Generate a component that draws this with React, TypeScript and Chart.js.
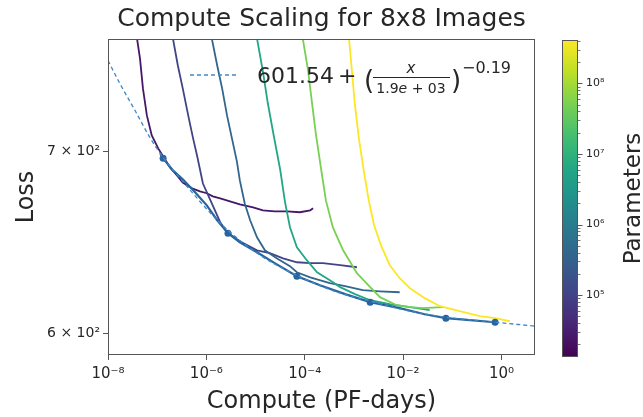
import React, { useEffect, useRef } from 'react';
import { Chart, registerables } from 'chart.js';

Chart.register(...registerables);

// ---------- text ----------
const TITLE = 'Compute Scaling for 8x8 Images';
const X_TITLE = 'Compute (PF-days)';
const Y_TITLE = 'Loss';
const CB_TITLE = 'Parameters';
const FIT_CONST = '601.54';
const FIT_NUM = 'x';
const FIT_SCALE_MANT = '1.9';
const FIT_SCALE_E = 'e';
const FIT_SCALE_EXP = ' + 03';
const FIT_POWER = '−0.19';

// ---------- ticks ----------
const xTickValues = [1e-8, 1e-6, 1e-4, 1e-2, 1];
const xTickLabels = ['10⁻⁸', '10⁻⁶', '10⁻⁴', '10⁻²', '10⁰'];
const yTickValues = [600, 700];
const yTickLabels = ['6 × 10²', '7 × 10²'];
const cbTickValues = [1e5, 1e6, 1e7, 1e8];
const cbTickLabels = ['10⁵', '10⁶', '10⁷', '10⁸'];
const cbMinorMultipliers = [2, 3, 4, 5, 6, 7, 8, 9];

const X_MIN = 1e-8;
const X_MAX = 4.8;
const Y_MIN = 589;
const Y_MAX = 770;
const CB_MIN = 1.33e4;
const CB_MAX = 4.1e8;

// ---------- data ----------
const modelParams = [2.5e4, 1.1e5, 4e5, 6e6, 5e7, 4e8];

const computeA = [3.39e-8, 3.89e-8, 4.47e-8, 5.13e-8, 6.17e-8, 7.76e-8, 1.05e-7, 1.32e-7, 1.82e-7, 2.63e-7, 3.31e-7, 5.13e-7, 7.41e-7, 1.02e-6, 1.35e-6, 1.91e-6, 3.02e-6, 4.79e-6, 8.91e-6, 1.41e-5, 2.45e-5, 4.37e-5, 7.94e-5, 1.29e-4, 1.48e-4];
const lossA = [775.5, 770.3, 757.4, 738.4, 721.7, 709.5, 701.8, 697.0, 690.6, 685.3, 681.8, 678.4, 676.7, 675.6, 673.8, 672.7, 671.0, 669.3, 667.6, 665.9, 665.3, 665.3, 664.8, 665.9, 667.0];

const computeB = [1.91e-7, 2.09e-7, 2.63e-7, 3.31e-7, 4.27e-7, 5.37e-7, 6.46e-7, 8.51e-7, 1.29e-6, 1.91e-6, 2.63e-6, 4.79e-6, 1.07e-5, 1.95e-5, 3.63e-5, 6.92e-5, 1.29e-4, 2.34e-4, 5.25e-4, 1.15e-3];
const lossB = [775.5, 770.3, 752.9, 738.4, 721.7, 707.8, 697.6, 681.2, 669.8, 659.2, 653.6, 648.6, 643.7, 642.1, 639.3, 637.2, 636.7, 636.7, 635.6, 634.5];

const computeC = [1.17e-6, 1.29e-6, 1.66e-6, 2.09e-6, 2.63e-6, 3.31e-6, 4.17e-6, 4.79e-6, 6.03e-6, 7.76e-6, 1.07e-5, 1.55e-5, 2.69e-5, 5.01e-5, 6.92e-5, 1.29e-4, 3.24e-4, 6.61e-4, 1.51e-3, 3.39e-3, 8.51e-3];
const lossC = [775.5, 770.3, 752.9, 738.4, 721.7, 707.8, 694.1, 683.0, 669.8, 660.3, 650.8, 643.7, 639.3, 635.1, 631.8, 629.1, 626.0, 624.4, 622.3, 621.7, 621.2];

const computeD = [9.77e-6, 1.07e-5, 1.41e-5, 1.78e-5, 2.34e-5, 3.16e-5, 3.98e-5, 5.01e-5, 6.92e-5, 1.10e-4, 1.78e-4, 3.24e-4, 5.25e-4, 1.05e-3, 2.14e-3, 5.37e-3, 1.38e-2, 3.47e-2];
const lossD = [775.5, 770.3, 749.1, 729.0, 709.5, 689.4, 670.4, 656.4, 645.3, 638.3, 631.8, 627.6, 623.9, 620.2, 617.0, 614.9, 613.4, 611.8];

const computeE = [8.32e-5, 9.12e-5, 1.17e-4, 1.41e-4, 1.70e-4, 2.14e-4, 2.69e-4, 3.72e-4, 6.03e-4, 1.15e-3, 2.14e-3, 3.39e-3, 7.41e-3, 1.38e-2, 2.51e-2, 6.46e-2];
const lossE = [775.5, 770.3, 749.7, 729.0, 709.5, 690.0, 671.5, 656.4, 643.7, 631.3, 623.9, 618.6, 614.4, 613.4, 612.9, 613.4];

const computeF = [7.24e-4, 7.94e-4, 9.12e-4, 1.05e-3, 1.26e-3, 1.58e-3, 2.00e-3, 2.57e-3, 3.55e-3, 5.37e-3, 8.51e-3, 1.38e-2, 2.75e-2, 5.62e-2, 1.41e-1, 3.63e-1, 7.41e-1, 1.48];
const lossF = [775.5, 770.3, 749.1, 727.8, 707.8, 688.8, 671.5, 657.5, 646.4, 635.6, 628.6, 623.3, 618.1, 613.9, 611.3, 608.7, 607.7, 606.1];

const frontierCompute = [1.15e-7, 1.32e-7, 2.09e-7, 3.31e-7, 5.89e-7, 1.02e-6, 1.66e-6, 2.75e-6, 4.79e-6, 1.07e-5, 2.45e-5, 6.92e-5, 2.04e-4, 6.61e-4, 2.14e-3, 8.51e-3, 2.75e-2, 7.41e-2, 2.29e-1, 7.41e-1];
const frontierLoss = [698.8, 695.9, 688.8, 683.6, 676.1, 668.7, 660.3, 653.1, 648.1, 642.6, 636.7, 629.7, 624.9, 620.2, 616.0, 612.9, 609.7, 607.7, 606.7, 605.6];

const dotCompute = [1.32e-7, 2.75e-6, 6.92e-5, 2.14e-3, 7.41e-2, 7.41e-1];
const dotLoss = [695.9, 653.1, 629.7, 616.0, 607.7, 605.6];

const fitCompute = [1e-8, 1.74e-8, 3.55e-8, 7.08e-8, 1.32e-7, 3.72e-7, 1.17e-6, 2.75e-6, 1.23e-5, 6.92e-5, 4.07e-4, 2.14e-3, 1.38e-2, 7.41e-2, 7.41e-1, 4.79];
const fitLoss = [756.1, 741.5, 724.7, 708.4, 696.5, 680.7, 664.8, 654.7, 641.0, 630.2, 621.7, 616.5, 611.3, 608.2, 605.6, 603.6];

const curveComputes = [computeA, computeB, computeC, computeD, computeE, computeF];
const curveLosses = [lossA, lossB, lossC, lossD, lossE, lossF];

// ---------- style ----------
const FONT = '"DejaVu Sans", sans-serif';
const TEXT_COLOR = '#262626';
const FRAME_COLOR = '#555555';
const FIT_COLOR = '#3f88c5';
const FRONTIER_COLOR = '#29649d';
const VIRIDIS = ['#440154', '#482475', '#414487', '#355f8d', '#2a788e', '#21918c', '#22a884', '#44bf70', '#7ad151', '#bddf26', '#fde725'];

function hexToRgb(h: string) {
  const n = parseInt(h.slice(1), 16);
  return [(n >> 16) & 255, (n >> 8) & 255, n & 255];
}
function viridis(t: number) {
  const c = Math.max(0, Math.min(1, t)) * (VIRIDIS.length - 1);
  const i = Math.min(VIRIDIS.length - 2, Math.floor(c));
  const f = c - i;
  const a = hexToRgb(VIRIDIS[i]);
  const b = hexToRgb(VIRIDIS[i + 1]);
  const m = a.map((v, k) => Math.round(v + (b[k] - v) * f));
  return `rgb(${m[0]},${m[1]},${m[2]})`;
}
function paramFrac(p: number) {
  return (Math.log10(p) - Math.log10(CB_MIN)) / (Math.log10(CB_MAX) - Math.log10(CB_MIN));
}
function labelFor(values: number[], labels: string[], v: number) {
  const i = values.findIndex((t) => Math.abs(Math.log10(t) - Math.log10(v)) < 1e-6);
  return i >= 0 ? labels[i] : '';
}
function pts(xs: number[], ys: number[]) {
  return xs.map((x, i) => ({ x, y: ys[i] }));
}

// colorbar geometry (pixels)
const CB_LEFT = 562;
const CB_RIGHT = 578;
const CB_TOP = 40;
const CB_BOTTOM = 357;

const decorPlugin = {
  id: 'decor',
  afterDraw(chart: any) {
    const { ctx, chartArea: a } = chart;
    ctx.save();
    // frame
    ctx.strokeStyle = FRAME_COLOR;
    ctx.lineWidth = 1;
    ctx.strokeRect(Math.round(a.left) + 0.5, Math.round(a.top) + 0.5, Math.round(a.right - a.left) - 1, Math.round(a.bottom - a.top) - 1);

    ctx.fillStyle = TEXT_COLOR;
    // title
    ctx.font = `25px ${FONT}`;
    ctx.textAlign = 'center';
    ctx.textBaseline = 'alphabetic';
    ctx.fillText(TITLE, (a.left + a.right) / 2, 26);
    // x title
    ctx.font = `24px ${FONT}`;
    ctx.fillText(X_TITLE, (a.left + a.right) / 2, 408);
    // y title
    ctx.save();
    ctx.translate(33, (a.top + a.bottom) / 2);
    ctx.rotate(-Math.PI / 2);
    ctx.fillText(Y_TITLE, 0, 0);
    ctx.restore();

    // colorbar
    const g = ctx.createLinearGradient(0, CB_BOTTOM, 0, CB_TOP);
    VIRIDIS.forEach((c, i) => g.addColorStop(i / (VIRIDIS.length - 1), c));
    ctx.fillStyle = g;
    ctx.fillRect(CB_LEFT, CB_TOP, CB_RIGHT - CB_LEFT, CB_BOTTOM - CB_TOP);
    ctx.strokeStyle = FRAME_COLOR;
    ctx.lineWidth = 1;
    ctx.strokeRect(CB_LEFT + 0.5, CB_TOP + 0.5, CB_RIGHT - CB_LEFT - 1, CB_BOTTOM - CB_TOP - 1);
    const cbY = (v: number) => CB_BOTTOM - paramFrac(v) * (CB_BOTTOM - CB_TOP);
    ctx.beginPath();
    for (let k = 4; k <= 8; k++) {
      for (const m of cbMinorMultipliers) {
        const v = m * Math.pow(10, k);
        if (v < CB_MIN || v > CB_MAX) continue;
        const y = Math.round(cbY(v)) + 0.5;
        ctx.moveTo(CB_RIGHT, y);
        ctx.lineTo(CB_RIGHT + 2.5, y);
      }
    }
    ctx.lineWidth = 0.8;
    ctx.stroke();
    ctx.beginPath();
    cbTickValues.forEach((v) => {
      const y = Math.round(cbY(v)) + 0.5;
      ctx.moveTo(CB_RIGHT, y);
      ctx.lineTo(CB_RIGHT + 4.5, y);
    });
    ctx.lineWidth = 1;
    ctx.stroke();
    ctx.fillStyle = TEXT_COLOR;
    ctx.font = `11px ${FONT}`;
    ctx.textAlign = 'left';
    ctx.textBaseline = 'middle';
    cbTickValues.forEach((v, i) => ctx.fillText(cbTickLabels[i], 586, cbY(v)));
    ctx.save();
    ctx.translate(640, (CB_TOP + CB_BOTTOM) / 2);
    ctx.rotate(-Math.PI / 2);
    ctx.textAlign = 'center';
    ctx.textBaseline = 'alphabetic';
    ctx.font = `23px ${FONT}`;
    ctx.fillText(CB_TITLE, 0, 0);
    ctx.restore();

    // legend
    ctx.strokeStyle = FIT_COLOR;
    ctx.lineWidth = 1.3;
    ctx.setLineDash([4, 3]);
    ctx.beginPath();
    ctx.moveTo(190, 75);
    ctx.lineTo(238, 75);
    ctx.stroke();
    ctx.setLineDash([]);
    ctx.fillStyle = TEXT_COLOR;
    ctx.textBaseline = 'alphabetic';
    ctx.textAlign = 'left';
    ctx.font = `22px ${FONT}`;
    ctx.fillText(FIT_CONST, 257, 83);
    ctx.fillText('+', 338, 83);
    ctx.font = `26px ${FONT}`;
    ctx.fillText('(', 364, 89);
    const fx = 411;
    ctx.textAlign = 'center';
    ctx.font = `italic 15px ${FONT}`;
    ctx.fillText(FIT_NUM, fx, 73);
    ctx.fillRect(373, 77, 77, 1);
    const runs: [string, string][] = [
      [FIT_SCALE_MANT, `14px ${FONT}`],
      [FIT_SCALE_E, `italic 14px ${FONT}`],
      [FIT_SCALE_EXP, `14px ${FONT}`],
    ];
    let total = 0;
    runs.forEach(([t, f]) => { ctx.font = f; total += ctx.measureText(t).width; });
    let cx = fx - total / 2;
    ctx.textAlign = 'left';
    runs.forEach(([t, f]) => { ctx.font = f; ctx.fillText(t, cx, 93); cx += ctx.measureText(t).width; });
    ctx.font = `26px ${FONT}`;
    ctx.fillText(')', 451, 89);
    ctx.font = `16px ${FONT}`;
    ctx.fillText(FIT_POWER, 462, 73);
    ctx.restore();
  },
};

export default function App() {
  const ref = useRef<HTMLCanvasElement | null>(null);
  useEffect(() => {
    if (!ref.current) return;
    const curveSets = curveComputes.map((xs, i) => ({
      data: pts(xs, curveLosses[i]),
      borderColor: viridis(paramFrac(modelParams[i])),
      borderWidth: 1.8,
      pointRadius: 0,
      fill: false,
    }));
    const datasets: any[] = [
      {
        data: pts(fitCompute, fitLoss),
        borderColor: FIT_COLOR,
        borderWidth: 1.3,
        borderDash: [4, 3],
        pointRadius: 0,
        cubicInterpolationMode: 'monotone',
        fill: false,
      },
      {
        data: pts(dotCompute, dotLoss),
        showLine: false,
        pointRadius: 3.5,
        pointBackgroundColor: FRONTIER_COLOR,
        pointBorderColor: FRONTIER_COLOR,
        pointBorderWidth: 0,
      },
      {
        data: pts(frontierCompute, frontierLoss),
        borderColor: FRONTIER_COLOR,
        borderWidth: 2.2,
        pointRadius: 0,
        fill: false,
      },
      ...curveSets.reverse(),
    ];
    const chart = new Chart(ref.current, {
      type: 'line',
      data: { datasets },
      options: {
        animation: false,
        responsive: false,
        devicePixelRatio: 1,
        events: [],
        layout: { padding: { left: 0, right: 108, top: 39, bottom: 0 } },
        plugins: { legend: { display: false }, tooltip: { enabled: false }, title: { display: false } },
        elements: { line: { tension: 0 } },
        scales: {
          x: {
            type: 'logarithmic',
            min: X_MIN,
            max: X_MAX,
            bounds: 'data',
            afterBuildTicks: (s: any) => { s.ticks = xTickValues.map((v) => ({ value: v })); },
            afterFit: (s: any) => { s.height = 62; },
            ticks: {
              callback: (v: any) => labelFor(xTickValues, xTickLabels, Number(v)),
              font: { family: '"DejaVu Sans"', size: 15 },
              color: TEXT_COLOR,
              maxRotation: 0,
              autoSkip: false,
              padding: 5,
            },
            grid: { display: true, drawOnChartArea: false, drawTicks: true, tickLength: 5, color: FRAME_COLOR },
            border: { display: false },
          },
          y: {
            type: 'logarithmic',
            min: Y_MIN,
            max: Y_MAX,
            bounds: 'data',
            afterBuildTicks: (s: any) => { s.ticks = yTickValues.map((v) => ({ value: v })); },
            afterFit: (s: any) => { s.width = 108; },
            ticks: {
              callback: (v: any) => labelFor(yTickValues, yTickLabels, Number(v)),
              font: { family: '"DejaVu Sans"', size: 14 },
              color: TEXT_COLOR,
              autoSkip: false,
              padding: 3,
            },
            grid: { display: true, drawOnChartArea: false, drawTicks: true, tickLength: 5, color: FRAME_COLOR },
            border: { display: false },
          },
        },
      } as any,
      plugins: [decorPlugin],
    });
    return () => chart.destroy();
  }, []);
  return (
    <div style={{ position: 'fixed', left: 0, top: 0, width: 643, height: 417, background: '#fff' }}>
      <canvas ref={ref} width={643} height={417} style={{ display: 'block' }} />
    </div>
  );
}
